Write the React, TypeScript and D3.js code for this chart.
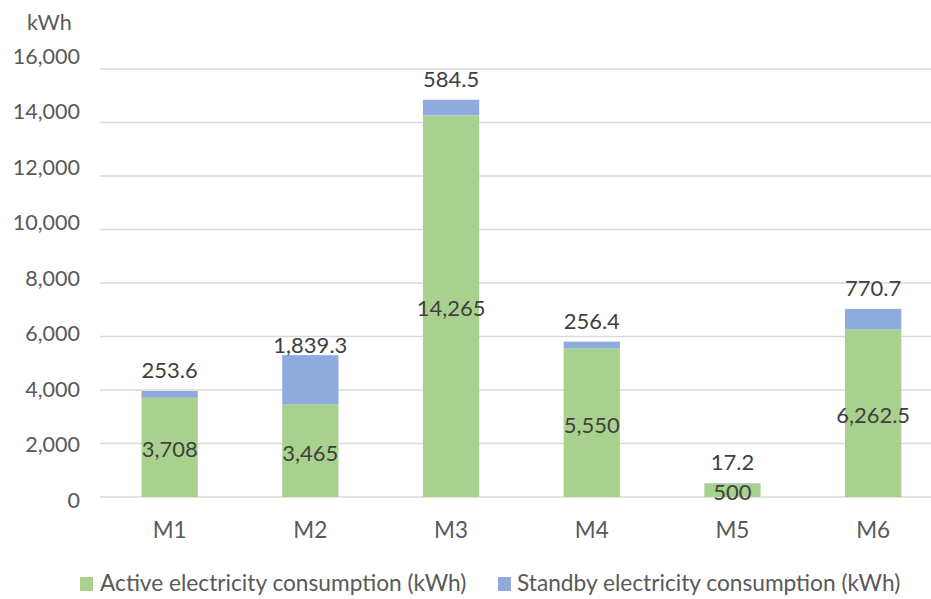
import React from "react";
import * as d3 from "d3";

const categories = ["M1", "M2", "M3", "M4", "M5", "M6"];
const activeKWh = [3708, 3465, 14265, 5550, 500, 6262.5];
const standbyKWh = [253.6, 1839.3, 584.5, 256.4, 17.2, 770.7];
const yTicks = [0, 2000, 4000, 6000, 8000, 10000, 12000, 14000, 16000];
const seriesNames = [
  "Active electricity consumption (kWh)",
  "Standby electricity consumption (kWh)",
];

const W = 931;
const H = 599;
const FONT = "Lato, 'Open Sans', sans-serif";
const GREEN = "#a9d18e";
const BLUE = "#8faadc";
const AXIS_TEXT = "#595959";
const LABEL_TEXT = "#404040";

// the M2 standby label sits lower, right on the top of its bar
const standbyLabelNudge: Record<string, number> = { M2: 11 };

export default function App() {
  const y = d3.scaleLinear().domain([0, 16000]).range([497, 69]);
  // tick labels are spread slightly wider than the gridlines
  const yLabel = d3.scaleLinear().domain([0, 16000]).range([500, 56]);
  const x = d3
    .scaleBand<string>()
    .domain(categories)
    .range([99.3, 943.5])
    .paddingInner(0.6)
    .paddingOuter(0.3);
  const fmt = d3.format(",");
  const tickFmt = d3.format(",");

  const rows = categories.map((c, i) => ({
    c,
    a: activeKWh[i],
    s: standbyKWh[i],
  }));
  const stack = d3
    .stack<{ c: string; a: number; s: number }>()
    .keys(["a", "s"])(rows);

  return (
    <svg
      width={W}
      height={H}
      style={{ position: "absolute", left: 0, top: 0, background: "#fff" }}
      fontFamily={FONT}
    >
      <rect width={W} height={H} fill="#fff" />
      <text x={27} y={30} fontSize={21.5} fill={AXIS_TEXT}>
        kWh
      </text>
      {yTicks.map((t) => (
        <g key={t}>
          <line
            x1={100}
            x2={W}
            y1={y(t)}
            y2={y(t)}
            stroke="#d9d9d9"
            strokeWidth={1.4}
          />
          <text
            x={80}
            y={yLabel(t)}
            dy="0.36em"
            textAnchor="end"
            fontSize={21.5}
            fill={AXIS_TEXT}
          >
            {tickFmt(t)}
          </text>
        </g>
      ))}
      {stack.map((layer, li) => (
        <g key={li} fill={li === 0 ? GREEN : BLUE}>
          {layer.map((d, i) => (
            <rect
              key={i}
              x={x(categories[i])}
              width={x.bandwidth()}
              y={y(d[1])}
              height={y(d[0]) - y(d[1])}
            />
          ))}
        </g>
      ))}
      {categories.map((c, i) => {
        const cx = (x(c) as number) + x.bandwidth() / 2;
        const top = y(activeKWh[i] + standbyKWh[i]);
        return (
          <g key={c} fontSize={22} fill={LABEL_TEXT} textAnchor="middle">
            <text x={cx} y={y(activeKWh[i] / 2) + 2} dy="0.36em">
              {fmt(activeKWh[i])}
            </text>
            <text x={cx} y={top - 13 + (standbyLabelNudge[c] || 0)}>
              {fmt(standbyKWh[i])}
            </text>
            <text x={cx} y={538} fill={AXIS_TEXT} fontSize={22.5}>
              {c}
            </text>
          </g>
        );
      })}
      <g fontSize={22.7} fill={AXIS_TEXT}>
        <rect x={80} y={577} width={13} height={14} fill={GREEN} />
        <text x={100} y={591}>
          {seriesNames[0]}
        </text>
        <rect x={498} y={577} width={13} height={14} fill={BLUE} />
        <text x={517} y={591}>
          {seriesNames[1]}
        </text>
      </g>
    </svg>
  );
}
